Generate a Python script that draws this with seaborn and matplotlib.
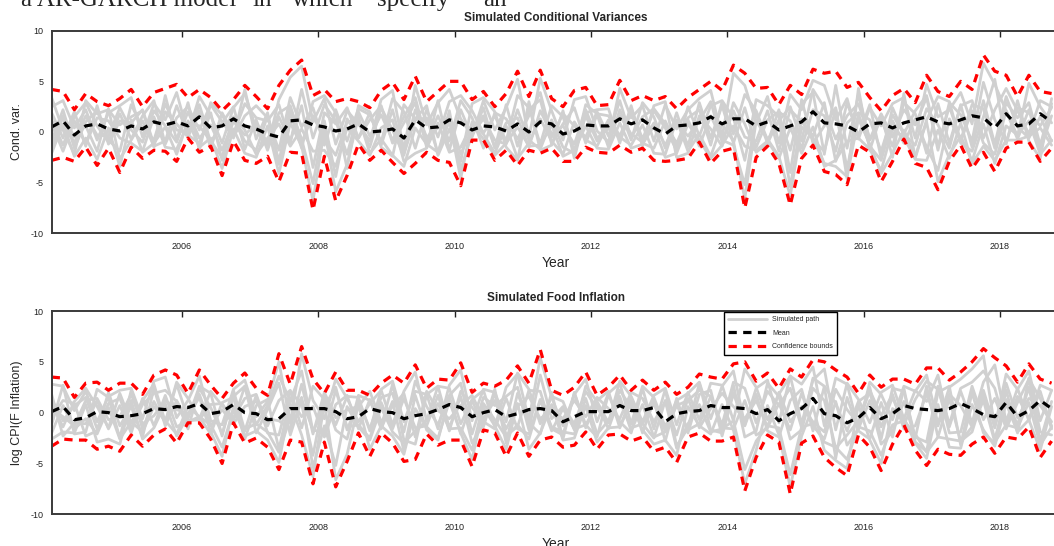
import numpy as np
import matplotlib
matplotlib.use("Agg")
import matplotlib.pyplot as plt
import seaborn as sns

# time axis: every second month starting Feb 2004
start_year = 2004.09
n_points = 89
years = start_year + np.arange(n_points) / 6.0

# ---- panel 1: simulated conditional variances ----
upper_var = [4.2, 4.0, 2.2, 3.8, 3.0, 2.6, 3.3, 4.2, 2.5, 3.9,
             4.3, 4.7, 3.4, 4.2, 3.4, 2.1, 3.2, 4.6, 3.5, 2.3,
             4.6, 6.1, 7.1, 3.6, 4.2, 3.0, 3.3, 3.0, 2.4, 4.1,
             4.9, 3.2, 5.5, 3.0, 4.0, 5.0, 5.0, 3.2, 4.0, 2.5,
             3.8, 6.0, 3.5, 6.1, 3.3, 2.5, 4.1, 4.4, 2.6, 2.7,
             5.1, 3.1, 3.6, 3.1, 3.5, 2.3, 3.4, 4.2, 5.0, 4.1,
             6.6, 5.8, 4.3, 4.4, 2.7, 4.6, 3.7, 6.2, 5.8, 6.0,
             4.4, 4.9, 3.4, 2.1, 3.6, 4.3, 2.9, 5.6, 4.0, 3.5,
             5.0, 4.2, 7.6, 6.0, 5.6, 3.5, 5.6, 4.0, 3.8]
lower_var = [-2.8, -2.5, -2.9, -1.5, -3.3, -1.6, -4.0, -1.5, -2.6, -1.8,
             -1.9, -2.9, -0.6, -2.0, -1.4, -4.3, -0.9, -2.8, -3.1, -2.4,
             -4.9, -2.0, -2.1, -7.7, -2.4, -6.8, -4.3, -1.2, -2.8, -1.8,
             -3.0, -4.1, -3.1, -2.0, -2.8, -3.0, -5.3, -0.8, -0.8, -2.8,
             -1.8, -3.3, -1.8, -2.1, -1.6, -2.9, -2.9, -1.5, -2.0, -2.1,
             -1.3, -2.0, -1.6, -2.8, -2.9, -2.8, -2.6, -1.0, -3.1, -1.9,
             -1.6, -7.5, -2.5, -1.4, -3.1, -7.2, -2.6, -1.3, -3.9, -4.2,
             -5.2, -1.3, -2.0, -4.9, -2.9, -0.7, -3.1, -3.5, -5.7, -2.9,
             -1.3, -3.6, -2.0, -3.9, -1.6, -1.0, -1.0, -2.9, -1.6]
mean_var = [0.5, 1.1, -0.3, 0.6, 0.8, 0.3, 0.1, 0.6, 0.3, 1.0,
            0.7, 1.0, 0.6, 1.5, 0.4, 0.6, 1.3, 0.6, 0.3, -0.2,
            -0.5, 1.1, 1.2, 0.7, 0.5, 0.1, 0.3, 0.8, 0.0, 0.1,
            0.3, -0.6, 1.2, 0.4, 0.5, 1.2, 0.9, 0.2, 0.6, 0.5,
            0.1, 0.8, 0.0, 1.0, 0.8, -0.2, 0.1, 0.7, 0.6, 0.6,
            1.3, 0.8, 1.2, 0.4, -0.2, 0.6, 0.7, 0.9, 1.5, 0.8,
            1.3, 1.3, 0.6, 1.0, 0.2, 0.6, 1.0, 2.0, 0.9, 0.8,
            0.6, 0.0, 0.8, 0.9, 0.4, 0.9, 1.2, 1.5, 1.0, 0.8,
            1.2, 1.6, 1.4, 0.4, 1.8, 0.6, 0.8, 1.8, 1.0]
paths_var = [
    [2.5, 3.1, 0.4, 2.2, -0.8, 1.9, 2.6, 3.4, -0.5, 2.8,
     1.2, 3.9, -0.2, 3.5, 1.6, -1.1, 2.4, 3.8, 0.3, -1.5,
     3.2, 5.4, 6.5, 1.0, 3.3, -1.2, 2.1, 0.8, -0.9, 3.2,
     4.1, -1.8, 4.6, 0.7, 2.9, 4.2, 1.3, -0.4, 3.1, 0.2,
     2.4, 5.2, -0.6, 5.3, 2.1, -0.8, 3.2, 3.5, 0.1, -1.0,
     4.3, 1.4, 2.6, -0.9, 2.7, 0.3, 2.2, 3.3, 4.1, -0.5,
     5.8, 4.6, 0.9, 3.5, -1.1, 3.7, 2.2, 5.1, 4.6, 1.2,
     3.3, -0.7, 2.4, 0.6, 2.8, 3.4, -0.6, 4.7, 1.5, 2.2,
     3.9, 0.8, 6.8, 4.7, 2.1, -0.4, 4.8, 2.5, 0.9],
    [-2.1, 0.8, -2.4, -0.6, -2.7, 0.4, -3.4, 1.2, -2.0, -1.1,
     0.5, -2.2, 1.1, -1.5, -0.6, -3.6, 0.3, -2.1, -2.5, 0.6,
     -4.1, 0.9, -1.4, -6.8, 0.2, -5.9, -3.2, 1.5, -2.1, -0.7,
     -2.3, -3.4, 0.4, -1.2, -2.0, 1.1, -4.6, 1.0, -0.2, -2.1,
     0.6, -2.6, -1.1, 1.3, -0.9, -2.2, 1.0, -0.8, -1.4, 0.9,
     -0.5, -1.3, 0.7, -2.1, -2.2, 1.2, -1.9, -0.2, -2.4, 0.8,
     -0.9, -6.6, 1.1, -0.7, -2.4, -6.3, 0.5, -0.6, -3.1, -3.4,
     -4.4, 1.3, -1.2, -4.1, -2.1, 0.2, -2.4, 1.0, -4.9, -2.2,
     -0.4, -2.9, 0.8, -3.1, 0.6, -0.3, 1.1, -2.2, -0.8],
    [1.2, -1.3, 1.5, 2.9, 0.6, -1.0, 1.8, -0.7, 1.6, 3.1,
     -1.2, 1.4, 2.5, 0.2, 2.7, 1.0, -0.5, 1.6, 2.6, 1.4,
     -1.8, 3.4, 0.5, 2.4, -1.3, 2.2, -0.9, 2.3, 1.7, -1.0,
     3.3, 2.0, -1.6, 2.2, -0.5, 3.0, 3.6, 2.1, -0.1, 1.6,
     -0.9, 3.6, 2.4, -1.2, 2.6, 1.5, -1.9, 2.7, 1.8, 1.6,
     -0.4, 2.3, -0.7, 2.1, 0.4, -1.8, 2.5, -0.4, 2.6, 3.1,
     1.4, -2.8, 3.2, 2.6, 1.5, -1.8, 2.8, 3.9, -2.2, 4.6,
     -1.6, 3.7, -0.8, 1.2, -1.4, 2.9, 1.8, -2.1, 2.8, -1.1,
     2.6, 3.1, -0.6, 2.2, 4.3, 2.1, -0.2, 3.1, 2.5],
    [-0.9, 2.2, -1.6, 1.0, 2.1, -0.8, -1.9, 2.7, 0.4, -0.8,
     2.8, 0.2, -0.1, 2.7, -1.0, 0.9, 2.5, -1.7, 1.2, -1.8,
     1.5, -0.9, 2.6, -3.5, 1.9, 0.8, 2.4, -0.6, 1.2, 2.6,
     -1.1, 0.9, 2.9, -1.5, 3.1, -1.8, 2.2, -0.5, 2.4, -1.6,
     2.7, -1.4, 2.2, 3.2, -1.2, 0.8, 2.4, -1.1, 1.7, -1.5,
     2.2, -0.8, 2.9, 1.5, -1.6, 1.9, -1.4, 2.9, -0.6, 2.6,
     -1.1, 2.4, -1.5, 1.2, 2.0, 1.1, -1.6, 2.2, 1.6, -1.9,
     2.9, -0.4, 2.7, -2.6, 2.4, -0.2, 2.1, 3.6, -1.4, 2.5,
     -0.8, 2.7, 2.3, -1.6, 2.9, 1.4, 2.9, -1.3, 2.8],
    [0.8, -1.9, 1.1, -1.2, 1.4, 1.1, -0.6, -1.1, -1.9, 1.5,
     -1.5, -1.7, 0.9, 0.6, -0.9, -2.5, 1.5, 0.2, -2.2, -0.6,
     0.8, -1.4, 0.3, -1.9, -1.8, -3.4, 0.4, -0.9, -2.3, 0.4,
     1.2, -2.9, -2.1, -1.6, 0.9, -2.0, -1.5, 0.8, -0.7, -2.3,
     -1.1, 0.5, -1.4, -1.3, 0.7, -2.4, -1.8, 0.6, -1.6, -1.7,
     0.9, -1.6, -1.2, 0.6, -2.5, -2.1, 0.8, -0.8, -2.6, -1.3,
     0.6, -1.4, -1.8, -0.9, -2.6, 0.4, -2.1, 0.5, -3.4, -2.8,
     -0.9, -0.6, -1.7, -3.8, 0.3, -0.5, -2.7, -2.8, 0.2, -2.6,
     0.9, -3.1, -1.4, -2.8, -0.8, -0.8, -0.4, 0.4, -1.3],
    [3.4, 0.2, -2.2, 3.1, 1.8, 2.2, 0.7, 1.5, 2.1, -1.5,
     3.6, -0.8, 2.9, -1.8, 2.9, 1.7, -0.6, 4.2, -0.7, 1.9,
     -3.2, 1.9, -1.6, 3.0, 3.6, 1.9, -3.6, 2.6, 2.0, -1.5,
     -2.4, 2.7, 1.3, 2.6, -2.3, 0.3, -2.9, 2.8, 3.4, 2.0,
     -1.5, -2.8, 3.0, -1.8, -1.3, 2.1, -2.6, 1.9, 2.2, 2.3,
     -1.1, 2.6, -1.4, 2.6, 3.0, -2.5, -2.1, 1.6, 0.3, -1.4,
     2.9, 0.8, -2.0, -1.1, 2.2, -4.0, 3.2, -1.1, 0.6, 2.4,
     -4.6, 4.3, -1.8, 1.7, -2.5, 3.8, -2.6, 1.2, 3.5, 3.0,
     -1.1, -1.9, 1.5, 5.2, -1.2, 3.1, -0.9, -2.6, 3.3],
    [1.9, -0.6, 2.0, -1.4, 2.6, -1.2, 1.1, 0.9, 2.2, -1.2,
     2.0, 0.8, -0.5, 2.1, -1.6, 1.9, -0.2, 2.8, 1.4, 1.1,
     2.7, -1.1, 4.2, -0.6, 2.7, 1.1, -2.2, 2.0, -0.4, 1.7,
     -0.8, 1.5, 3.4, -0.9, 1.6, -0.9, 3.1, 1.4, -1.6, 1.9,
     1.3, -0.7, 1.6, 3.9, -0.5, 1.8, 0.6, -0.5, 2.0, -0.4,
     3.1, -0.6, 1.5, 2.3, 0.8, -1.1, 1.4, 2.2, -1.3, 3.0,
     -0.2, 3.7, 2.1, -0.8, 1.1, 2.5, -0.9, 4.2, 2.4, -0.7,
     1.6, 2.8, -0.7, 1.8, -0.5, 2.2, 0.7, 3.4, -1.8, 2.9,
     1.7, -0.9, 4.9, 1.2, -1.0, 2.4, 1.9, 0.6, 2.4],
    [-1.6, 1.6, -0.5, 0.6, -1.9, 2.3, -2.7, -0.8, 1.1, -1.4,
     -0.9, 2.6, -0.3, -1.1, 1.9, -2.8, 1.2, -0.9, -1.8, 1.6,
     -2.9, 2.4, -0.7, -5.1, 1.1, -4.4, 1.3, -0.6, 1.9, -1.3,
     2.2, -2.1, 1.2, 1.4, -2.1, 2.1, -3.7, -0.2, 1.3, -0.8,
     -1.2, 2.2, -0.8, -1.7, 1.2, -1.5, -2.1, 1.6, -0.9, 1.2,
     -0.8, 1.9, -1.1, -1.6, 1.1, -1.4, 1.2, -1.4, 1.6, -0.8,
     -1.3, -5.2, 1.9, -1.1, 1.2, -5.4, 1.3, -0.8, -1.9, 2.3,
     -3.6, 1.8, -1.4, -2.8, 1.1, -1.1, 1.3, -1.5, -3.8, 1.3,
     -0.9, 2.1, -1.1, -2.2, 2.1, -0.7, 2.2, -1.8, 1.6],
    [0.2, 1.3, -1.1, 1.6, -0.3, -0.4, 2.4, 0.2, -1.0, 2.1,
     0.6, -1.0, 2.0, -0.6, 0.7, -1.8, 1.1, -0.3, 0.9, -1.1,
     1.9, 2.6, -1.0, 1.6, -0.7, -2.3, 1.0, 1.2, -1.5, 2.4,
     0.2, -2.3, 2.2, -0.5, 0.4, 1.6, -2.2, 0.3, 1.6, -1.5,
     0.9, 1.4, -1.5, 2.1, -0.2, 0.6, -1.2, 2.2, -0.6, 0.3,
     1.6, -0.2, -1.0, 0.9, -1.3, 0.9, -0.4, 1.1, 3.0, -1.0,
     2.1, -0.5, -0.9, 2.1, -1.9, 2.2, 1.0, -0.4, 2.9, -2.9,
     0.9, 1.9, 1.2, -1.9, 1.7, -0.2, -1.3, 2.3, 0.7, -1.6,
     2.7, -1.5, 3.1, -1.2, 3.5, 0.5, -0.6, 1.5, -0.9],
]

# ---- panel 2: simulated food inflation ----
upper_inf = [3.5, 3.4, 1.5, 2.9, 3.0, 2.2, 2.9, 2.9, 1.8, 3.7,
             4.2, 3.7, 1.9, 4.2, 2.7, 1.4, 2.9, 3.9, 2.4, 1.7,
             5.8, 2.8, 6.5, 3.3, 1.9, 4.0, 2.2, 2.2, 1.7, 2.9,
             3.7, 2.9, 4.7, 2.4, 3.3, 3.2, 4.9, 2.0, 2.9, 2.6,
             3.2, 4.6, 2.9, 6.2, 2.2, 1.7, 2.5, 4.0, 1.7, 2.5,
             3.7, 2.2, 3.2, 2.2, 3.0, 1.8, 2.5, 3.8, 3.5, 3.3,
             4.8, 5.0, 3.1, 3.9, 2.4, 4.3, 3.5, 5.2, 5.0, 4.2,
             3.5, 1.9, 3.7, 2.5, 3.3, 3.3, 2.8, 4.4, 4.4, 3.2,
             4.0, 5.0, 6.3, 5.4, 4.6, 3.0, 4.8, 3.3, 2.9]
lower_inf = [-3.3, -2.6, -2.7, -2.7, -3.6, -3.3, -3.8, -2.2, -3.3, -2.2,
             -1.6, -3.0, -1.0, -1.0, -2.6, -5.0, -1.0, -3.0, -2.5, -3.4,
             -5.6, -2.7, -2.9, -7.0, -2.9, -7.3, -4.8, -2.0, -4.3, -2.0,
             -3.0, -4.8, -4.6, -2.1, -3.2, -2.7, -2.7, -5.3, -1.7, -2.0,
             -4.3, -2.0, -4.3, -2.7, -2.4, -3.4, -3.2, -1.9, -3.6, -2.2,
             -2.1, -2.8, -2.4, -3.8, -3.4, -4.9, -2.4, -2.0, -2.8, -2.8,
             -2.4, -7.7, -4.4, -2.2, -2.9, -8.0, -3.0, -2.3, -4.4, -5.4,
             -6.2, -2.2, -3.4, -5.7, -3.1, -1.2, -3.7, -5.2, -3.6, -4.1,
             -4.2, -3.1, -2.4, -4.0, -2.4, -2.6, -1.4, -4.4, -2.8]
mean_inf = [0.1, 0.6, -0.7, -0.5, 0.1, 0.0, -0.4, -0.3, -0.1, 0.4,
            0.3, 0.6, 0.5, 0.9, -0.1, 0.1, 0.8, 0.0, -0.1, -0.7,
            -0.6, 0.4, 0.4, 0.4, 0.4, 0.1, -0.6, -0.4, 0.4, 0.1,
            0.0, -0.6, -0.3, -0.1, 0.3, 0.8, 0.5, -0.4, 0.0, 0.3,
            -0.4, -0.1, 0.3, 0.4, 0.2, -0.9, -0.4, 0.1, 0.1, 0.1,
            0.7, 0.2, 0.2, 0.5, -0.9, -0.1, 0.1, 0.2, 0.7, 0.5,
            0.5, 0.4, -0.1, 0.3, -0.8, -0.1, 0.4, 1.4, -0.1, -0.3,
            -1.0, -0.5, 0.5, -0.6, -0.1, 0.7, 0.4, 0.3, 0.2, 0.4,
            0.9, 0.4, -0.2, -0.4, 1.0, -0.4, 0.2, 1.2, 0.4]
paths_inf = [
    [2.8, 2.6, 0.2, 2.1, -0.9, 1.6, 2.2, 2.4, -0.6, 3.1,
     3.5, -0.5, 1.2, 3.6, -0.8, -1.2, 2.3, 3.2, -0.4, 1.1,
     5.0, -1.0, 5.8, 1.2, -0.6, 3.3, 1.4, -0.9, 0.9, 2.2,
     -1.2, 2.1, 4.0, -0.8, 2.6, 2.4, -1.1, 1.3, 2.2, -1.4,
     2.5, 3.8, -0.7, 5.4, 1.5, -1.3, 1.8, 3.3, -0.9, 1.9,
     2.9, -1.1, 2.6, 1.5, -1.4, 1.2, 1.9, 3.0, -0.6, 2.6,
     4.1, -1.2, 2.4, 3.2, -1.0, 3.6, 2.8, 4.5, -1.3, 3.4,
     2.8, -1.6, 3.0, 1.8, -0.7, 2.6, 2.1, 3.7, -1.1, 2.5,
     3.3, 4.3, 5.6, -1.4, 3.8, 2.3, 4.1, -0.8, 2.2],
    [-2.6, -1.9, -2.0, 0.8, -2.9, -2.6, -3.1, 1.2, -2.6, -1.5,
     0.9, -2.3, -0.3, 1.5, -1.9, -4.3, 0.6, -2.3, -1.8, -2.7,
     -4.9, 0.9, -2.2, -6.3, 1.0, -6.6, -4.1, 0.8, -3.6, -1.3,
     -2.3, -4.1, 0.4, -1.4, -2.5, 1.1, -2.0, -4.6, 0.5, -1.3,
     -3.6, 0.9, -3.6, -2.0, 0.8, -2.7, -2.5, 0.7, -2.9, -1.5,
     -1.4, 1.0, -1.7, -3.1, -2.7, -4.2, 0.6, -1.3, -2.1, 0.8,
     -1.7, -7.0, -3.7, 0.7, -2.2, -7.3, -2.3, 0.6, -3.7, -4.7,
     -5.5, 0.8, -2.7, -5.0, 0.4, -0.5, -3.0, -4.5, 0.8, -3.4,
     -3.5, 0.8, -1.7, -3.3, 0.9, -1.9, -0.7, -3.7, 0.6],
    [0.9, -1.4, 1.1, 2.4, 0.6, -1.5, 1.9, -1.0, 1.2, 2.8,
     -0.9, 3.0, 1.4, -0.6, 2.1, 0.7, -0.5, 1.4, 1.8, -1.3,
     1.2, 2.2, -1.5, 2.6, 1.3, -1.2, 1.6, 1.5, -1.8, 2.3,
     3.1, -0.9, 2.1, 1.8, -1.6, 2.7, 4.2, -0.8, 2.3, 2.0,
     -0.9, 3.9, 2.3, -1.1, 1.6, 1.1, -1.7, 2.6, 1.1, -1.0,
     3.1, 1.6, -0.9, 1.7, 2.4, -1.2, 2.0, -0.7, 2.9, 2.7,
     -0.8, 4.3, 2.5, -0.7, 1.8, 3.6, -1.1, 3.2, 4.3, -1.7,
     2.9, 1.3, -1.0, 2.0, 2.7, -0.6, 2.2, 1.1, 3.7, -1.4,
     2.1, -1.0, 3.0, 4.7, -0.9, 2.4, -0.8, 2.7, 2.2],
    [-1.2, 2.7, -2.1, -1.9, 2.3, 1.5, -2.5, 2.2, -1.6, 1.1,
     -1.0, 2.8, -0.6, 2.6, 1.9, -2.3, 2.2, -1.8, 1.7, -2.0,
     -2.2, 2.1, 0.8, -4.2, 1.6, -1.7, -2.6, 1.7, 1.2, -1.4,
     2.8, -2.7, -3.1, 1.8, 2.6, -1.5, 1.6, -3.0, -1.1, 1.9,
     -2.2, -1.4, 2.2, 2.1, -1.6, -2.2, 1.9, -1.2, -2.4, 1.8,
     -0.9, -2.0, 2.4, -1.6, 2.3, -3.3, -1.5, 2.9, -1.7, -2.0,
     2.7, -2.4, -1.8, 2.9, 1.6, -2.6, -1.7, 2.4, 1.2, -3.5,
     -2.2, -0.8, 2.5, -2.6, 2.4, 2.1, -2.4, -2.9, 2.6, -2.0,
     -1.9, 2.6, -0.7, 1.4, -1.4, 1.6, -0.6, 2.1, -1.6],
    [1.8, -2.3, -1.0, -1.1, 1.2, -1.6, 0.7, -2.0, 1.4, -1.3,
     1.7, -1.4, -0.8, -0.7, 0.8, 0.9, -0.8, 2.6, -2.0, 0.3,
     2.9, -2.2, 1.3, -1.7, -2.0, 2.2, -1.4, -1.2, -2.5, 1.0,
     -1.6, 1.4, -1.5, -1.3, 1.7, -1.8, 2.1, 0.5, -0.9, -1.6,
     1.4, -1.6, -2.1, 1.3, -1.8, 0.4, -1.6, -1.2, 0.8, -1.6,
     1.6, -1.8, 0.8, -2.4, -1.9, 0.8, -1.7, -1.1, 1.6, -1.5,
     -1.6, 1.2, -2.2, -1.5, 0.9, -1.7, 1.9, -1.3, -2.6, 1.1,
     -3.2, -1.6, 1.2, -3.1, -1.9, 1.1, -2.5, 2.6, -2.4, 1.4,
     -2.8, -1.9, 1.7, -2.6, 1.3, -1.2, 2.5, -2.8, 1.1],
    [-0.5, 1.2, 0.9, -2.3, -1.8, 2.0, -1.3, 0.6, -2.4, 2.4,
     -1.3, 1.2, -0.9, -0.4, -2.1, 1.0, 1.5, -2.6, 0.7, 1.3,
     -3.6, 1.4, -0.4, 0.6, -2.4, 0.8, 1.7, -1.6, 1.3, -1.6,
     1.1, -3.8, 1.7, -1.7, -2.7, 1.6, -2.1, 1.2, -1.4, 2.3,
     -3.0, 1.9, -1.0, -2.1, 2.0, -2.6, 2.0, -1.5, 1.2, 2.1,
     -1.5, 1.5, -2.0, 1.2, -2.8, 1.4, -2.0, 1.8, 2.2, -2.3,
     1.9, -1.3, 1.8, -1.8, -2.4, 1.2, 2.3, -1.8, 2.6, -4.5,
     1.5, -1.8, -2.6, 1.0, -2.4, 2.4, -2.9, -3.8, 2.0, 2.6,
     -3.2, 2.0, -2.0, -3.0, 2.2, -2.0, 3.4, -1.9, -2.2],
    [1.3, -0.8, 0.7, 1.5, -1.6, 0.9, 1.4, -1.5, 0.8, 1.9,
     2.2, 1.1, -1.6, 2.4, 0.5, -2.1, 1.6, 2.6, -1.2, 0.7,
     3.6, 1.2, 4.1, -1.9, 0.6, 2.5, -1.7, 1.1, -1.6, 1.5,
     1.9, -1.9, 3.1, 0.6, -1.2, 1.7, 2.9, -2.1, 1.5, 0.7,
     1.6, 2.5, -1.7, 3.7, -0.6, 0.6, -1.1, 2.1, 0.4, -0.9,
     2.2, 0.5, -1.1, 0.9, -1.8, 0.7, 1.2, 2.2, 1.6, -1.2,
     3.0, 2.4, -1.0, 2.1, 0.7, 2.4, -1.5, 3.4, 2.6, 0.9,
     -1.8, 1.1, 1.9, -1.4, 1.5, -1.2, 1.3, 3.1, 2.3, -1.1,
     2.4, 3.0, 4.1, 2.4, -1.6, 1.0, 3.3, 1.4, -1.3],
    [-2.0, 0.7, -1.6, -0.6, -2.1, 0.5, -2.6, -0.9, -1.9, 0.6,
     -0.8, -2.1, 0.6, -0.4, -1.2, -3.4, 0.2, -1.6, -1.1, -1.9,
     -3.9, -0.5, 1.5, -5.4, -1.3, -5.2, 0.6, -1.4, -2.7, 0.5,
     -1.9, -3.0, -1.8, -0.8, 0.9, -1.6, -1.5, -3.7, 0.9, -0.7,
     -2.4, -1.2, -2.6, 1.2, -1.4, -1.9, -2.1, 1.4, -2.1, -0.8,
     1.1, -1.5, -1.1, -2.5, 1.2, -3.5, -1.1, 0.8, -1.9, -1.6,
     -0.8, -5.6, -2.8, -1.3, -1.5, -6.1, -1.4, -1.1, -2.9, -3.4,
     -4.6, -1.4, -1.8, -4.2, -1.2, -0.8, -2.1, -3.9, -2.4, -2.6,
     -2.8, -1.4, 1.2, -2.9, -1.2, -1.5, 1.0, -3.2, -1.4],
    [0.4, -0.4, -1.3, 1.2, 1.4, -0.7, -0.4, 1.8, -1.1, -0.3,
     1.2, 0.3, -0.1, 1.8, -1.3, 0.3, -1.1, 0.6, 1.1, -0.6,
     -0.8, -1.6, 2.8, -2.1, 2.0, -0.5, 0.3, 0.6, 2.1, -0.9,
     0.6, 1.9, -2.4, 2.1, 0.2, -0.6, 0.7, 1.7, -0.6, 1.2,
     -1.6, 0.6, 1.6, -0.6, 0.3, -0.6, 1.2, -0.4, 1.5, 0.4,
     -0.6, 2.0, 1.4, -0.9, 1.1, -2.2, 1.4, -1.5, 0.4, 1.9,
     0.6, -0.6, 1.2, -1.4, 2.0, -0.9, 0.6, -0.9, -1.9, 2.3,
     0.3, -1.1, 2.2, -0.3, 1.8, -1.6, -1.3, 1.9, -1.3, 1.8,
     0.7, -1.4, 2.2, -1.5, 2.9, -0.5, 1.4, 0.7, -0.9],
]

year_ticks = [2006, 2008, 2010, 2012, 2014, 2016, 2018]
value_ticks = [-10, -5, 0, 5, 10]

sns.set_style("white")
plt.rcParams["font.family"] = ["Liberation Sans", "DejaVu Sans"]
plt.rcParams["axes.unicode_minus"] = False

GRAY = "#d0d0d0"
DASH = (0, (2.6, 2.0))


def draw_panel(ax, paths, mean, upper, lower, title, ylabel):
    """Draw one simulation panel in the MATLAB look."""
    for p in paths:
        sns.lineplot(x=years, y=p, ax=ax, color=GRAY, linewidth=2.0, legend=False)
    path_line = ax.lines[0]
    sns.lineplot(x=years, y=upper, ax=ax, color="red", linewidth=2.3,
                 linestyle=DASH, legend=False)
    bound_line = ax.lines[-1]
    sns.lineplot(x=years, y=lower, ax=ax, color="red", linewidth=2.3,
                 linestyle=DASH, legend=False)
    sns.lineplot(x=years, y=mean, ax=ax, color="black", linewidth=2.3,
                 linestyle=DASH, legend=False)
    mean_line = ax.lines[-1]

    ax.set_xlim(2004.09, 2018.88)
    ax.set_ylim(-10, 10)
    ax.set_xticks(year_ticks)
    ax.set_yticks(value_ticks)
    ax.tick_params(direction="in", top=True, right=True, length=4, width=1,
                   labelsize=6.5, pad=6, colors="#222222")
    for spine in ax.spines.values():
        spine.set_color("#3a3a3a")
        spine.set_linewidth(1.4)
    ax.set_title(title, fontsize=8.5, fontweight="bold", pad=7)
    ax.set_xlabel("Year", fontsize=10, labelpad=4)
    ax.set_ylabel(ylabel, fontsize=9, labelpad=5)
    return path_line, mean_line, bound_line


fig = plt.figure(figsize=(10.54, 5.46), dpi=100)
ax1 = fig.add_axes([0.049, 0.5727, 0.9567, 0.3711])
ax2 = fig.add_axes([0.049, 0.0581, 0.9567, 0.3723])

draw_panel(ax1, paths_var, mean_var, upper_var, lower_var,
           "Simulated Conditional Variances", "Cond. var.")
handles = draw_panel(ax2, paths_inf, mean_inf, upper_inf, lower_inf,
                     "Simulated Food Inflation", "log CPI(F Inflation)")

leg = ax2.legend(handles, ["Simulated path", "Mean", "Confidence bounds"],
                 loc="upper left", bbox_to_anchor=(0.667, 0.995),
                 fontsize=5, handlelength=5.5, handletextpad=0.8,
                 labelspacing=0.95, borderpad=0.6, borderaxespad=0,
                 fancybox=False, framealpha=1, edgecolor="black")
leg.get_frame().set_linewidth(1.0)

# line of running document text cut by the top edge
serif = ["Liberation Serif", "DejaVu Serif"]
y_base = 1 - 6 / 546
fig.text(236 / 1054, y_base, "a AR-GARCH model", ha="right", va="baseline",
         fontsize=18, family=serif)
for word, xpix in [("in", 252), ("which", 292), ("specify", 377), ("an", 483)]:
    fig.text(xpix / 1054, y_base, word, ha="left", va="baseline",
             fontsize=18, family=serif)

fig.savefig("out.png", dpi=100)
